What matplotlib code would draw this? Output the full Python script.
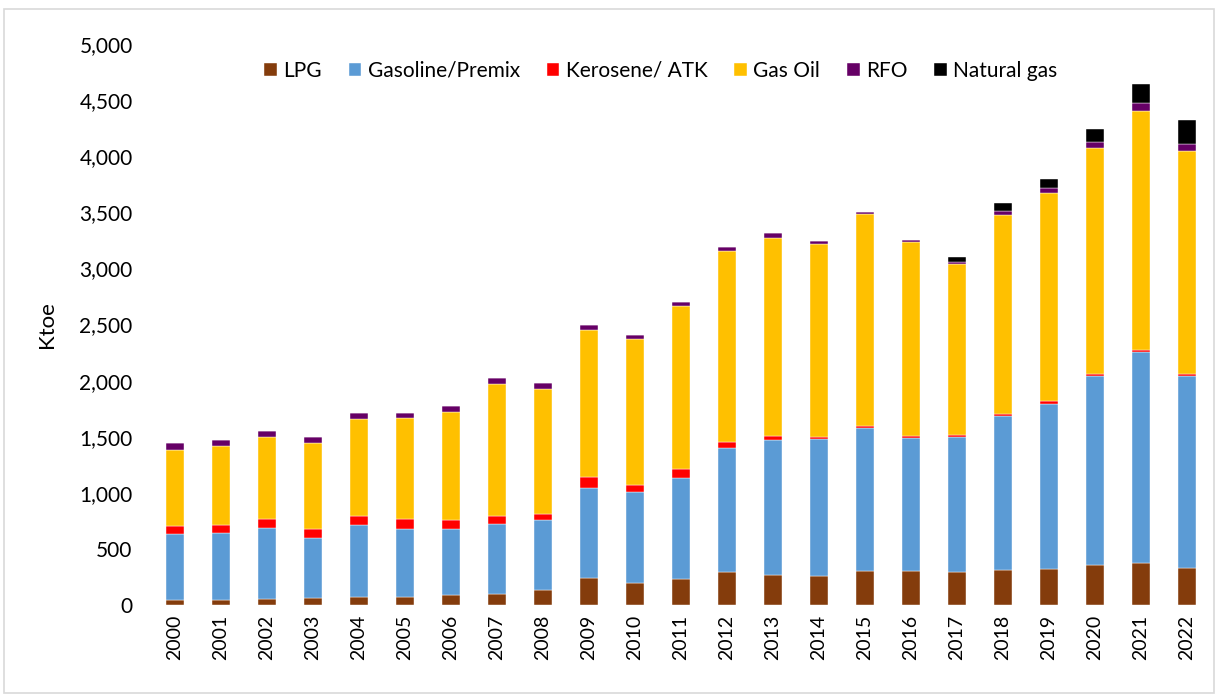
import matplotlib.pyplot as plt
import numpy as np
from matplotlib.patches import Rectangle

years = [str(y) for y in range(2000, 2023)]

lpg = [45, 45, 53, 62, 71, 74, 92, 101, 131, 238, 193, 232, 291, 270, 261, 303, 306, 297, 309, 324, 359, 374, 330]
gasoline = [588, 597, 633, 538, 639, 606, 582, 624, 629, 805, 817, 900, 1108, 1200, 1218, 1271, 1182, 1200, 1378, 1467, 1682, 1880, 1708]
kerosene = [71, 71, 80, 77, 83, 86, 86, 71, 48, 101, 59, 80, 56, 39, 21, 21, 15, 21, 18, 24, 21, 18, 24]
gas_oil = [680, 701, 734, 769, 865, 897, 957, 1177, 1117, 1309, 1304, 1452, 1702, 1758, 1717, 1886, 1732, 1520, 1773, 1859, 2013, 2130, 1986]
rfo = [62, 53, 50, 51, 53, 51, 60, 53, 56, 42, 35, 39, 33, 45, 27, 18, 21, 18, 33, 42, 48, 77, 57]
natural_gas = [0] * 17 + [48, 68, 80, 124, 163, 214]

series = [
    ('LPG', lpg, '#843C0C'),
    ('Gasoline/Premix', gasoline, '#5B9BD5'),
    ('Kerosene/ ATK', kerosene, '#FF0000'),
    ('Gas Oil', gas_oil, '#FFC000'),
    ('RFO', rfo, '#660066'),
    ('Natural gas', natural_gas, '#000000'),
]

plt.rcParams['font.family'] = ['Lato', 'DejaVu Sans']

fig = plt.figure(figsize=(12.18, 6.96), dpi=100)
ax = fig.add_axes([0.1248, 0.1307, 0.8686, 0.806])

x = np.arange(len(years))
bottom = np.zeros(len(years))
for name, vals, color in series:
    vals = np.array(vals, dtype=float)
    ax.bar(x, vals, width=0.4, bottom=bottom, color=color, label=name,
           edgecolor='white', linewidth=0.3)
    bottom += vals

ax.set_xlim(-0.5, len(years) - 0.5)
ax.set_ylim(0, 5000)
ax.set_yticks(range(0, 5001, 500))
ax.set_yticklabels([f'{v:,}' for v in range(0, 5001, 500)], fontsize=15)
ax.set_xticks(x)
ax.set_xticklabels(years, rotation=90, fontsize=14)
ax.tick_params(axis='y', length=0, pad=14)
ax.tick_params(axis='x', length=0, pad=7)
for s in ax.spines.values():
    s.set_visible(False)
ax.set_ylabel('Ktoe', fontsize=16, labelpad=16)

ax.legend(loc='center', bbox_to_anchor=(0.481, 0.952), ncol=6, frameon=False,
          fontsize=15, handlelength=0.6, handleheight=0.6, handletextpad=0.3,
          columnspacing=1.3)

fig.patches.append(Rectangle((0.003, 0.004), 0.994, 0.983, transform=fig.transFigure,
                             fill=False, edgecolor='#d9d9d9', linewidth=1.2))

fig.savefig('out.png', dpi=100)
